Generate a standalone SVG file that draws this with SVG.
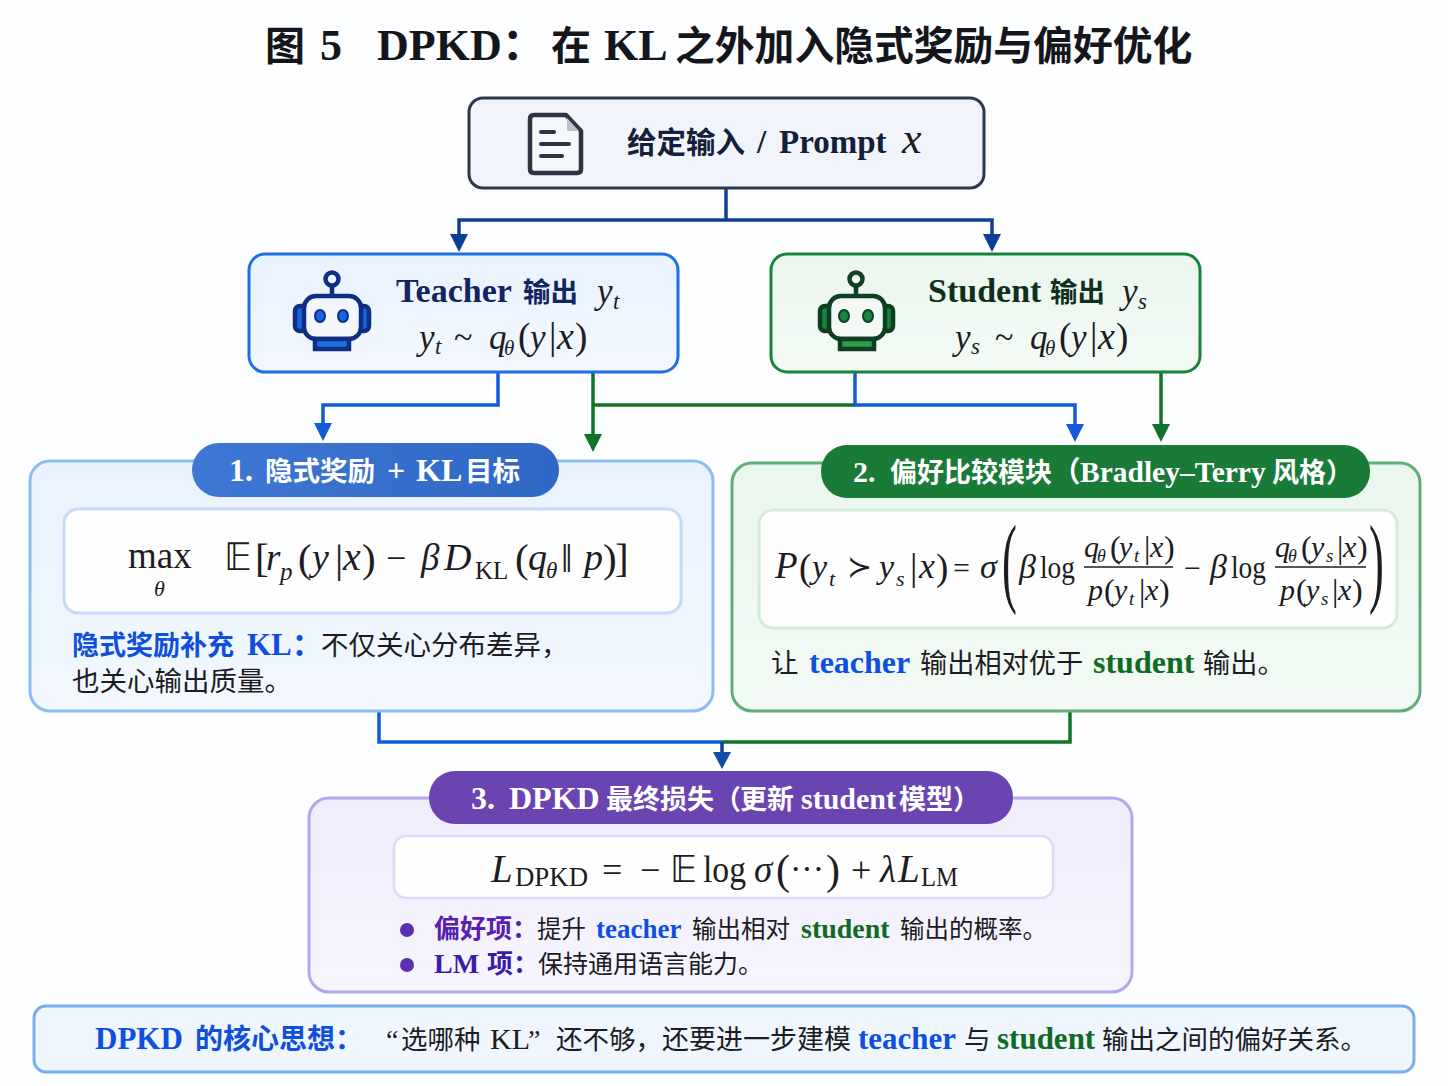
<svg xmlns="http://www.w3.org/2000/svg" width="1448" height="1086" viewBox="0 0 1448 1086">
<style>
text{font-family:"Liberation Serif","Noto Sans CJK SC",serif;white-space:pre}
.m{font-style:italic;fill:#1c1c22}
.r{fill:#1c1c22}
.blue{fill:#0f4fe0;font-weight:700}
.green{fill:#0f6a24;font-weight:700}
.body{fill:#1c1c22}
.w{fill:#fff;font-weight:700}
.c{fill:none;stroke-width:3.5}
.navy{stroke:#0f3f94}.bl{stroke:#1259dc}.gr{stroke:#0f7428}
</style>
<defs>
<linearGradient id="gb" x1="0" y1="0" x2="0" y2="1"><stop offset="0" stop-color="#e9f2fe"/><stop offset="1" stop-color="#f3f8fe"/></linearGradient>
<linearGradient id="gg" x1="0" y1="0" x2="0" y2="1"><stop offset="0" stop-color="#eaf6ee"/><stop offset="1" stop-color="#f3faf5"/></linearGradient>
<linearGradient id="gp" x1="0" y1="0" x2="0" y2="1"><stop offset="0" stop-color="#efecfc"/><stop offset="1" stop-color="#f7f5fe"/></linearGradient>
<linearGradient id="pb" x1="0" y1="0" x2="1" y2="0"><stop offset="0" stop-color="#3f78d4"/><stop offset="1" stop-color="#2f68c4"/></linearGradient>
</defs>
<rect width="1448" height="1086" fill="#fdfeff"/>

<text id="title" y="60" font-weight="700" fill="#15161c"><tspan x="265" font-size="40">图</tspan><tspan x="320" font-size="44">5</tspan><tspan x="377" font-size="44">DPKD：</tspan><tspan x="551" font-size="40">在</tspan><tspan x="604" font-size="44">KL</tspan><tspan x="675" font-size="39.8">之外加入隐式奖励与偏好优化</tspan></text>

<g id="connectors">
<path class="c navy" d="M726 188V220M459 236V220H992V236"/>
<path d="M450 234H468L459 252Z" fill="#0f3f94"/><path d="M983 234H1001L992 252Z" fill="#0f3f94"/>
<path class="c bl" d="M498 372V405H323V425"/><path d="M314 423H332L323 441Z" fill="#1259dc"/>
<path class="c gr" d="M593 372V436M593 405H855"/><path d="M584 434H602L593 452Z" fill="#0f7428"/>
<path class="c bl" d="M855 372V405H1075V426"/><path d="M1066 424H1084L1075 442Z" fill="#1259dc"/>
<path class="c gr" d="M1161 372V426"/><path d="M1152 424H1170L1161 442Z" fill="#0f7428"/>
<path class="c bl" d="M379 711V742H722"/><path class="c gr" d="M1070 711V742H722"/>
<path class="c navy" d="M722 742V754"/><path d="M713 752H731L722 769Z" fill="#0f4fa8"/>
</g>

<g id="input">
<rect x="469" y="98" width="515" height="90" rx="14" fill="#f1f5fb" stroke="#2b3850" stroke-width="3"/>
<path d="M534 115H566L581 131V169Q581 173 577 173H534Q530 173 530 169V119Q530 115 534 115Z" fill="#f6f8fb" stroke="#2e3442" stroke-width="4.5" stroke-linejoin="round"/>
<path d="M567 118V131H579Z" fill="#bcc3cf"/>
<path d="M541 132H554M541 144H569M541 156H562" stroke="#2e3442" stroke-width="4" stroke-linecap="round" fill="none"/>
<text y="153" font-weight="700" fill="#14203a"><tspan x="627" font-size="29.5">给定输入</tspan><tspan x="757" font-size="33">/</tspan><tspan x="779" font-size="33">Prompt</tspan></text>
<text x="902" y="153" font-size="44" class="m">x</text>
</g>

<g id="teacher">
<rect x="249" y="254" width="429" height="118" rx="16" fill="url(#gb)" stroke="#1f6fe4" stroke-width="3"/>
<g stroke="#0e2f80" stroke-width="4.5">
<circle cx="332" cy="279" r="6.5" fill="#eef4fd"/>
<path d="M332 286V296" fill="none"/>
<rect x="295" y="306" width="12" height="25" rx="5" fill="#1565e0"/><rect x="357" y="306" width="12" height="25" rx="5" fill="#1565e0"/>
<rect x="304" y="296" width="57" height="43" rx="12" fill="#f3f7fd"/>
<rect x="315" y="339" width="34" height="10" fill="#1f6fe4"/>
</g>
<ellipse cx="320" cy="316" rx="5" ry="6" fill="#1565e0" stroke="#0e2f80" stroke-width="2"/><ellipse cx="343" cy="316" rx="5" ry="6" fill="#1565e0" stroke="#0e2f80" stroke-width="2"/>
<text y="302" font-weight="700" fill="#12255e"><tspan x="396" font-size="34">Teacher</tspan><tspan x="523" font-size="27.5">输出</tspan></text>
<text x="597" y="303" font-size="35" class="m">y</text><text x="613" y="309" font-size="23" class="m">t</text>
<text x="419" y="349" font-size="35" class="m">y</text><text x="435" y="354" font-size="23" class="m">t</text>
<text x="454" y="348" font-size="34" class="r">~</text>
<text x="489" y="349" font-size="35" class="m">q</text><text x="504" y="355" font-size="21" class="m">θ</text>
<text x="518" y="349" font-size="37" class="r">(</text><text x="530" y="349" font-size="35" class="m">y</text><text x="549" y="349" font-size="37" class="r">|</text><text x="557" y="349" font-size="38" class="m">x</text><text x="575" y="349" font-size="37" class="r">)</text>
</g>

<g id="student">
<rect x="771" y="254" width="429" height="118" rx="16" fill="url(#gg)" stroke="#17843c" stroke-width="3"/>
<g stroke="#0f3f20" stroke-width="4.5">
<circle cx="856" cy="279" r="6.5" fill="#eef7f0"/>
<path d="M856 286V296" fill="none"/>
<rect x="820" y="306" width="12" height="25" rx="5" fill="#17843c"/><rect x="881" y="306" width="12" height="25" rx="5" fill="#17843c"/>
<rect x="829" y="296" width="56" height="43" rx="12" fill="#f3f8f4"/>
<rect x="840" y="339" width="34" height="10" fill="#2f9c4e"/>
</g>
<ellipse cx="844" cy="316" rx="5" ry="6" fill="#17843c" stroke="#0f3f20" stroke-width="2"/><ellipse cx="868" cy="316" rx="5" ry="6" fill="#17843c" stroke="#0f3f20" stroke-width="2"/>
<text y="302" font-weight="700" fill="#10301f"><tspan x="928" font-size="34">Student</tspan><tspan x="1050" font-size="27.5">输出</tspan></text>
<text x="1122" y="303" font-size="35" class="m">y</text><text x="1138" y="309" font-size="23" class="m">s</text>
<text x="955" y="349" font-size="35" class="m">y</text><text x="971" y="354" font-size="23" class="m">s</text>
<text x="995" y="348" font-size="34" class="r">~</text>
<text x="1030" y="349" font-size="35" class="m">q</text><text x="1045" y="355" font-size="21" class="m">θ</text>
<text x="1059" y="349" font-size="37" class="r">(</text><text x="1071" y="349" font-size="35" class="m">y</text><text x="1090" y="349" font-size="37" class="r">|</text><text x="1098" y="349" font-size="38" class="m">x</text><text x="1116" y="349" font-size="37" class="r">)</text>
</g>

<g id="panel1">
<rect x="30" y="461" width="683" height="250" rx="20" fill="url(#gb)" stroke="#8dbcf4" stroke-width="3"/>
<rect x="192" y="443" width="367" height="54" rx="27" fill="url(#pb)"/>
<text y="481" class="w"><tspan x="229" font-size="32">1.</tspan><tspan x="265" font-size="27.5">隐式奖励</tspan><tspan x="387" font-size="32">+</tspan><tspan x="416" font-size="32">KL</tspan><tspan x="465" font-size="27.5">目标</tspan></text>
<rect x="64" y="509" width="617" height="104" rx="14" fill="#fefefe" stroke="#c5daf6" stroke-width="3"/>
<text x="128" y="568" font-size="37" class="r">max</text>
<text x="154" y="596" font-size="22" class="m">θ</text>
<text x="224" y="570" font-size="38" class="r">𝔼</text>
<text x="255" y="572" font-size="41" class="r">[</text>
<text x="266" y="570" font-size="37" class="m">r</text><text x="280" y="580" font-size="25" class="m">p</text>
<text x="298" y="572" font-size="41" class="r">(</text><text x="312" y="570" font-size="38" class="m">y</text><text x="335" y="572" font-size="41" class="r">|</text><text x="343" y="570" font-size="40" class="m">x</text><text x="362" y="572" font-size="41" class="r">)</text>
<text x="386" y="570" font-size="36" class="r">−</text>
<text x="421" y="570" font-size="37" class="m">β</text><text x="444" y="570" font-size="38" class="m">D</text><text x="475" y="579" font-size="25" class="r">KL</text>
<text x="515" y="572" font-size="41" class="r">(</text><text x="528" y="570" font-size="38" class="m">q</text><text x="546" y="578" font-size="23" class="m">θ</text>
<text x="561" y="572" font-size="41" class="r">‖</text>
<text x="584" y="570" font-size="38" class="m">p</text><text x="603" y="572" font-size="41" class="r">)</text><text x="615" y="572" font-size="41" class="r">]</text>
<text y="655" class="blue"><tspan x="72" font-size="27">隐式奖励补充</tspan><tspan x="247" font-size="31">KL：</tspan></text>
<text x="321" y="655" font-size="27.5" class="body">不仅关心分布差异，</text>
<text x="72" y="691" font-size="27.5" class="body">也关心输出质量。</text>
</g>

<g id="panel2">
<rect x="732" y="463" width="688" height="248" rx="20" fill="url(#gg)" stroke="#5fae78" stroke-width="3"/>
<rect x="821" y="445" width="549" height="53" rx="26" fill="#1a7a38"/>
<text y="482" class="w"><tspan x="853" font-size="30">2.</tspan><tspan x="890" font-size="27">偏好比较模块</tspan><tspan x="1052" font-size="28.5">（</tspan><tspan x="1080" font-size="29.5">Bradley–Terry</tspan><tspan x="1272" font-size="27">风格）</tspan></text>
<rect x="759" y="510" width="638" height="118" rx="14" fill="#fefefe" stroke="#d3ecd9" stroke-width="3"/>
<text x="775" y="578" font-size="37" class="m">P</text>
<text x="799" y="580" font-size="37" class="r">(</text><text x="812" y="578" font-size="34" class="m">y</text><text x="829" y="586" font-size="22" class="m">t</text>
<text x="847" y="577" font-size="30" class="r">≻</text>
<text x="879" y="578" font-size="34" class="m">y</text><text x="896" y="586" font-size="22" class="m">s</text>
<text x="910" y="580" font-size="37" class="r">|</text><text x="919" y="578" font-size="36" class="m">x</text><text x="936" y="580" font-size="37" class="r">)</text>
<text x="953" y="578" font-size="30" class="r">=</text>
<text x="980" y="578" font-size="34" class="m">σ</text>
<text transform="translate(1002 594) scale(.45 1)" font-size="99" class="r">(</text>
<text x="1019" y="578" font-size="34" class="m">β</text><text x="1040" y="578" font-size="31" class="r" textLength="35" lengthAdjust="spacingAndGlyphs">log</text>
<text x="1084" y="557" font-size="30" class="m">q</text><text x="1097" y="562" font-size="18" class="m">θ</text><text x="1110" y="558" font-size="32" class="r">(</text><text x="1119" y="557" font-size="30" class="m">y</text><text x="1134" y="562" font-size="19" class="m">t</text><text x="1144" y="558" font-size="32" class="r">|</text><text x="1150" y="557" font-size="30" class="m">x</text><text x="1164" y="558" font-size="32" class="r">)</text>
<path d="M1084 567H1173" stroke="#1c1c22" stroke-width="1.6"/>
<text x="1088" y="600" font-size="30" class="m">p</text><text x="1104" y="601" font-size="32" class="r">(</text><text x="1114" y="600" font-size="30" class="m">y</text><text x="1129" y="605" font-size="19" class="m">t</text><text x="1139" y="601" font-size="32" class="r">|</text><text x="1145" y="600" font-size="30" class="m">x</text><text x="1159" y="601" font-size="32" class="r">)</text>
<text x="1184" y="578" font-size="30" class="r">−</text>
<text x="1210" y="578" font-size="34" class="m">β</text><text x="1231" y="578" font-size="31" class="r" textLength="35" lengthAdjust="spacingAndGlyphs">log</text>
<text x="1275" y="557" font-size="30" class="m">q</text><text x="1288" y="562" font-size="18" class="m">θ</text><text x="1301" y="558" font-size="32" class="r">(</text><text x="1311" y="557" font-size="30" class="m">y</text><text x="1326" y="562" font-size="19" class="m">s</text><text x="1337" y="558" font-size="32" class="r">|</text><text x="1343" y="557" font-size="30" class="m">x</text><text x="1357" y="558" font-size="32" class="r">)</text>
<path d="M1275 567H1366" stroke="#1c1c22" stroke-width="1.6"/>
<text x="1280" y="600" font-size="30" class="m">p</text><text x="1296" y="601" font-size="32" class="r">(</text><text x="1306" y="600" font-size="30" class="m">y</text><text x="1321" y="605" font-size="19" class="m">s</text><text x="1332" y="601" font-size="32" class="r">|</text><text x="1338" y="600" font-size="30" class="m">x</text><text x="1352" y="601" font-size="32" class="r">)</text>
<text transform="translate(1369 594) scale(.45 1)" font-size="99" class="r">)</text>
<text y="673" class="body"><tspan x="771" font-size="27.5">让</tspan><tspan x="809" font-size="32" class="blue">teacher</tspan><tspan x="920" font-size="27.2">输出相对优于</tspan><tspan x="1093" font-size="32" class="green">student</tspan><tspan x="1203" font-size="27.2">输出。</tspan></text>
</g>

<g id="panel3">
<rect x="309" y="798" width="823" height="194" rx="20" fill="url(#gp)" stroke="#b8a6ec" stroke-width="3"/>
<rect x="429" y="771" width="584" height="53" rx="26" fill="#6a44b0"/>
<text y="809" class="w"><tspan x="471" font-size="32">3.</tspan><tspan x="509" font-size="32">DPKD</tspan><tspan x="606" font-size="27">最终损失</tspan><tspan x="714" font-size="27">（</tspan><tspan x="740" font-size="27">更新</tspan><tspan x="801" font-size="30">student</tspan><tspan x="899" font-size="27">模型）</tspan></text>
<rect x="394" y="836" width="659" height="62" rx="12" fill="#fefefe" stroke="#dfd8f6" stroke-width="2.5"/>
<text x="491" y="882" font-size="39" class="m">L</text><text x="515" y="886" font-size="28" class="r" textLength="73" lengthAdjust="spacingAndGlyphs">DPKD</text>
<text x="602" y="882" font-size="36" class="r">=</text>
<text x="640" y="882" font-size="36" class="r">−</text>
<text x="670" y="882" font-size="37" class="r">𝔼</text>
<text x="703" y="882" font-size="37" class="r" textLength="43" lengthAdjust="spacingAndGlyphs">log</text>
<text x="754" y="882" font-size="37" class="m">σ</text>
<text x="776" y="884" font-size="42" class="r">(</text><text x="790" y="880" font-size="34" class="r">···</text><text x="826" y="884" font-size="42" class="r">)</text>
<text x="851" y="882" font-size="36" class="r">+</text>
<text x="880" y="882" font-size="37" class="m">λ</text><text x="898" y="882" font-size="39" class="m">L</text><text x="921" y="886" font-size="28" class="r" textLength="37" lengthAdjust="spacingAndGlyphs">LM</text>
<circle cx="407" cy="930" r="7" fill="#5b30b0"/><circle cx="407" cy="965" r="7" fill="#5b30b0"/>
<text x="434" y="938" font-size="26" font-weight="700" fill="#5a1fb0">偏好项：</text>
<text y="938" class="body"><tspan x="537" font-size="24.5">提升</tspan><tspan x="596" font-size="27" class="blue">teacher</tspan><tspan x="692" font-size="24.5">输出相对</tspan><tspan x="801" font-size="28" class="green">student</tspan><tspan x="900" font-size="24.5">输出的概率。</tspan></text>
<text y="973" font-weight="700" fill="#3d1aa8"><tspan x="434" font-size="28">LM</tspan><tspan x="487" font-size="26">项：</tspan></text>
<text x="538" y="973" font-size="25" class="body">保持通用语言能力。</text>
</g>

<g id="summary">
<rect x="34" y="1006" width="1380" height="66" rx="12" fill="#eff6fe" stroke="#76aef0" stroke-width="3"/>
<text y="1049" class="blue"><tspan x="95" font-size="31">DPKD</tspan><tspan x="195" font-size="28">的核心思想：</tspan></text>
<text y="1049" class="body"><tspan x="386" font-size="28">“</tspan><tspan x="401" font-size="26.5">选哪种</tspan><tspan x="490" font-size="30">KL</tspan><tspan x="528" font-size="28">”</tspan><tspan x="556" font-size="26.5">还不够，</tspan><tspan x="662" font-size="27">还要进一步建模</tspan><tspan x="858" font-size="31" class="blue">teacher</tspan><tspan x="964" font-size="26.5">与</tspan><tspan x="997" font-size="31" class="green">student</tspan><tspan x="1102" font-size="26.5">输出之间的偏好关系。</tspan></text>
</g>
</svg>
